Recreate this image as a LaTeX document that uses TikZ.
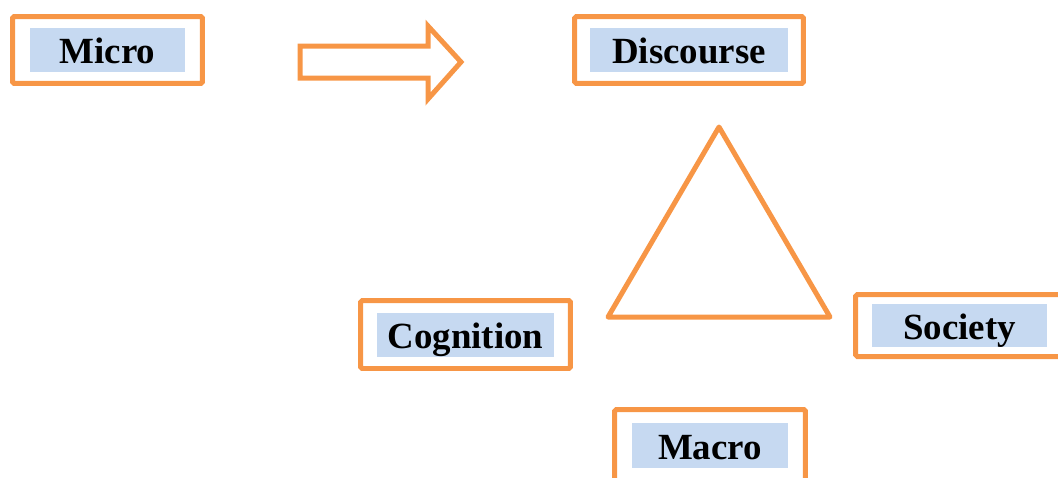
\documentclass[tikz,border=0pt]{standalone}
\usepackage{fontspec}
\setmainfont{Liberation Serif}
\usepackage{xcolor}
\usetikzlibrary{positioning}
\definecolor{boxorange}{HTML}{F79646}
\definecolor{lblblue}{HTML}{C6D9F1}
\tikzset{
    box/.style={
        draw=boxorange,
        line width=0.1cm,
        rounded corners=1pt,
        inner sep=0pt
    },
    lbl/.style={
        fill=lblblue,
        inner sep=0pt,
        text height=0.7cm,
        text depth=0.16cm,
        font=\fontsize{21}{24}\selectfont\bfseries
    }
}

\begin{document}
\begin{tikzpicture}[x=0.02cm,y=-0.02cm]
        % Bordi della figura
        \useasboundingbox (0,0) rectangle (1058,477);
        \clip (0,0) rectangle (1058,477);

        % Riquadri arancioni
        \node[box, minimum width=3.80cm, minimum height=1.34cm] (micro) at (107.5,50) {};
        \node[box, minimum width=4.58cm, minimum height=1.34cm] (discourse) at (689,50) {};
        \node[box, minimum width=4.20cm, minimum height=1.36cm] (cognition) at (465.5,334.5) {};
        \node[box, minimum width=4.16cm, minimum height=1.24cm] (society) at (959.5,325.5) {};
        \node[box, minimum width=3.82cm, minimum height=1.44cm] (macro) at (710,445.5) {};

        % Etichette
        \node[lbl, minimum width=3.12cm, minimum height=0.88cm] (micro text) at (micro.center) {Micro};
        \node[lbl, minimum width=3.96cm, minimum height=0.88cm] (discourse text) at (discourse.center) {Discourse};
        \node[lbl, minimum width=3.54cm, minimum height=0.88cm] (cognition text) at (cognition.center) {Cognition};
        \node[lbl, minimum width=3.50cm, minimum height=0.82cm] (society text) at (society.center) {Society};
        \node[lbl, minimum width=3.12cm, minimum height=0.90cm] (macro text) at (macro.center) {Macro};

        % Freccia vuota
        \draw[draw=boxorange, line width=0.1cm, line join=miter]
            (300,46) -- (428,46) -- (428,26) -- (461,62) -- (428,99)
            -- (428,78) -- (300,78) -- cycle;

        % Triangolo
        \draw[draw=boxorange, line width=0.1cm, line join=round]
            (719,127) -- (830,317) -- (608,317) -- cycle;
\end{tikzpicture}
\end{document}
